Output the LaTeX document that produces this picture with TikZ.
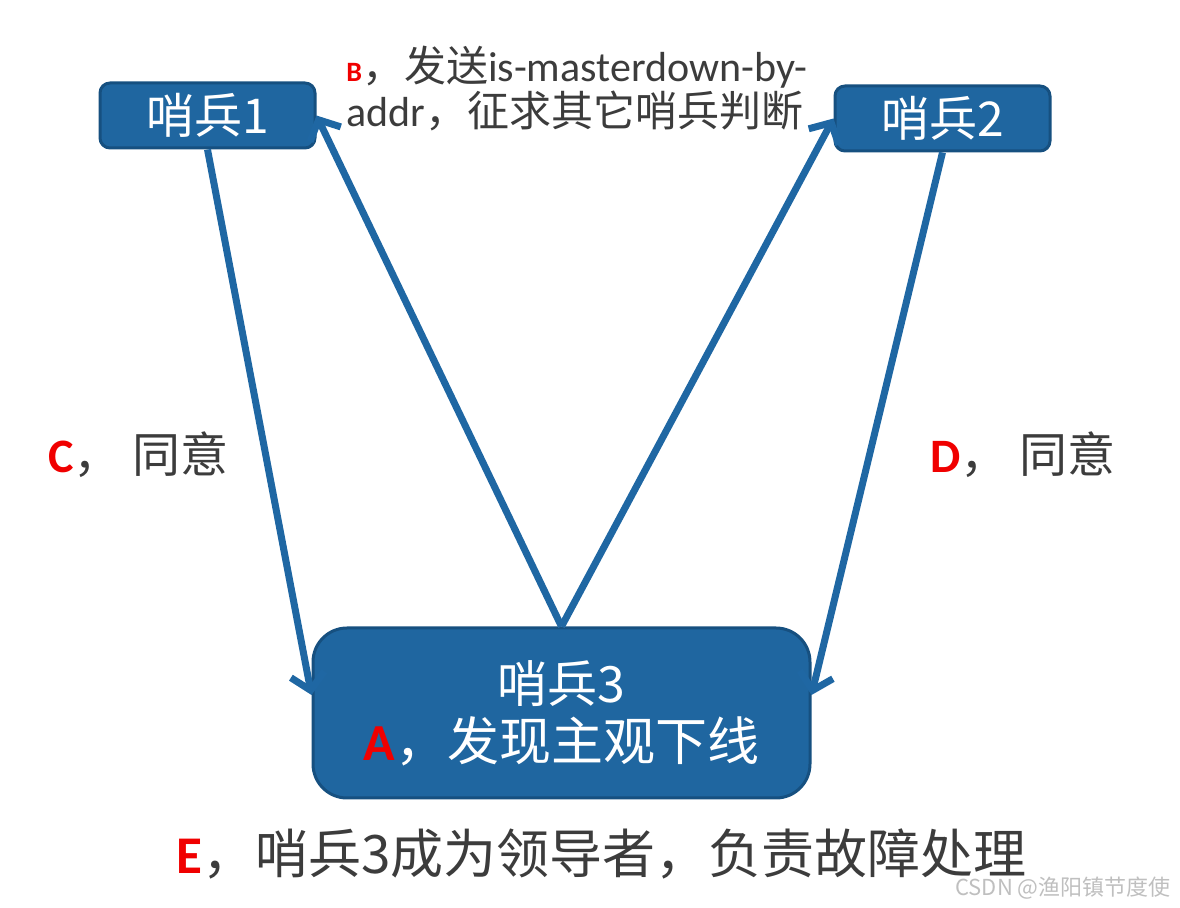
\documentclass[tikz,border=0pt]{standalone}
\usepackage{fontspec}
\setmainfont{Noto Sans CJK SC}
\newfontfamily\latinfont{Carlito}
\usetikzlibrary{arrows.meta,positioning}
\definecolor{boxblue}{RGB}{31,102,160}
\definecolor{boxedge}{RGB}{22,80,128}
\definecolor{linkblue}{RGB}{31,103,163}
\definecolor{textgray}{RGB}{60,60,60}
\definecolor{markred}{RGB}{240,0,0}
\newcommand{\redlet}[1]{{\latinfont\bfseries\color{markred}#1}}
\tikzset{
  sentinel/.style={draw=boxedge, line width=1.5pt, fill=boxblue, rounded corners=5pt,
    text=white, minimum width=107.5pt, minimum height=32.5pt, inner sep=0pt,
    font=\fontsize{24}{24}\selectfont},
  link/.style={draw=linkblue, line width=3.5pt, -{Straight Barb[length=8pt,width=17pt]}},
  note/.style={text=textgray, inner sep=0pt, anchor=west}
}
\begin{document}
\begin{tikzpicture}[x=0.5pt,y=-0.5pt]
    \useasboundingbox (0,0) rectangle (1180,908);
    % sentinels
    \node[sentinel] (s1) at (207.5,115.5) {哨兵1};
    \node[sentinel] (s2) at (942.5,118.5) {哨兵2};
    \node[sentinel, minimum width=248.5pt, minimum height=85pt, rounded corners=17pt, align=center] (s3) at (561.5,713)
        {{\fontsize{25}{28}\selectfont 哨兵3}\\[5pt]{\fontsize{26}{28}\selectfont\redlet{A}，发现主观下线}};
    % votes
    \draw[link] (s1.south) -- ([yshift=9pt]s3.west);
    \draw[link] (s3.north) -- (s1.east);
    \draw[link] (s3.north) -- (s2.west);
    \draw[link] (s2.south) -- ([yshift=9pt]s3.east);
    % notes
    \node[note, anchor=north west, align=left, font=\fontsize{21}{19}\selectfont] (ask) at (346,46)
        {{\fontsize{14}{19}\selectfont\redlet{B}}，发送{\latinfont is-masterdown-by-}\\{\latinfont addr}，征求其它哨兵判断};
    \node[note, font=\fontsize{24}{24}\selectfont] (agree1) at (48,455) {\redlet{C}，\ 同意};
    \node[note, font=\fontsize{24}{24}\selectfont] (agree2) at (930,455) {\redlet{D}，\ 同意};
    \node[note, anchor=base west, text depth=0pt, font=\fontsize{26.5}{26.5}\selectfont] (lead) at (176,874) {\redlet{E}，哨兵3成为领导者，负责故障处理};
    \node[note, anchor=base west, text height=7pt, text depth=0pt, text=black!25, font=\fontsize{11}{11}\selectfont] (mark) at (955,896) {CSDN @渔阳镇节度使};
\end{tikzpicture}
\end{document}
